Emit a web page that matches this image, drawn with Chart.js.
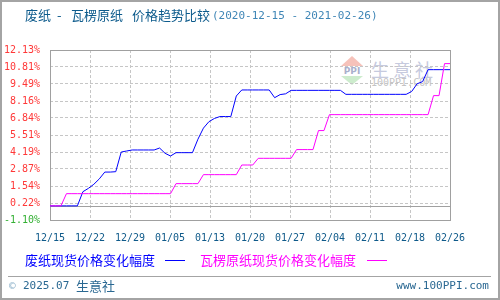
<!DOCTYPE html>
<html><head><meta charset="utf-8">
<script src="https://cdn.jsdelivr.net/npm/chart.js@4.4.0/dist/chart.umd.min.js"></script>
<style>
html,body{margin:0;padding:0;background:#fff;}
#wrap{position:relative;width:500px;height:300px;overflow:hidden;background:#fff;}
#frame{position:absolute;left:0;top:0;width:500px;height:300px;box-sizing:border-box;border:2px solid #a4a4a4;pointer-events:none;z-index:5;}
canvas{position:absolute;left:0;top:0;z-index:2;}
.t{position:absolute;white-space:nowrap;line-height:1;z-index:3;}
.cjk{font-family:"Noto Sans CJK SC","Noto Sans",sans-serif;font-size:13px;}
.mono{font-family:"DejaVu Sans Mono",monospace;font-size:11px;}
.wm{position:absolute;z-index:1;white-space:nowrap;line-height:1;}
</style></head><body>
<div id="wrap">
  <!-- watermark (behind the chart) -->
  <div class="wm" style="left:341px;top:56px;width:0;height:0;border-left:11px solid transparent;border-right:11px solid transparent;border-bottom:10px solid #f6c2ba;"></div>
  <div class="wm" style="left:341px;top:66px;width:22px;height:9px;font:bold 9px 'DejaVu Sans';color:#aab0cc;text-align:center;">PPI</div>
  <div class="wm" style="left:341px;top:76px;width:0;height:0;border-left:11px solid transparent;border-right:11px solid transparent;border-top:9px solid #cdeccd;"></div>
  <div class="wm" style="left:371px;top:56px;font:18px 'Noto Sans CJK SC';letter-spacing:4px;color:#c6cade;">生意社</div>
  <div class="wm" style="left:371px;top:77px;font:10px 'DejaVu Sans Mono';color:#c4c4c4;">100PPI.COM</div>

  <canvas id="c" width="500" height="300"></canvas>

  <!-- title -->
  <div class="t cjk" style="left:25px;top:8px;color:#0d5b8c;">废纸</div>
  <div class="t cjk" style="left:57px;top:8px;color:#0d5b8c;">-</div>
  <div class="t cjk" style="left:71px;top:8px;color:#0d5b8c;">瓦楞原纸</div>
  <div class="t cjk" style="left:132px;top:8px;color:#0d5b8c;">价格趋势比较</div>
  <div class="t mono" style="left:212px;top:10px;color:#3f86b6;">(2020-12-15 - 2021-02-26)</div>

  <!-- legend -->
  <div class="t cjk" style="left:25px;top:253px;color:#0000ff;">废纸现货价格变化幅度</div>
  <div class="t" style="left:165px;top:260px;width:20px;height:0;border-top:1px solid #0000ff;"></div>
  <div class="t cjk" style="left:200px;top:253px;color:#ff00ff;">瓦楞原纸现货价格变化幅度</div>
  <div class="t" style="left:367px;top:260px;width:20px;height:0;border-top:1px solid #ff00ff;"></div>

  <!-- footer -->
  <div class="t" style="left:8px;top:276px;width:483px;height:0;border-top:1px solid #a4a4a4;"></div>
  <div class="t mono" style="left:9px;top:280px;color:#8eb2ca;">©</div>
  <div class="t mono" style="left:23px;top:280px;color:#2a6892;">2025.07</div>
  <div class="t cjk" style="left:76px;top:279px;color:#2a6892;">生意社</div>
  <div class="t mono" style="right:11px;top:280px;color:#2a6892;">www.100PPI.com</div>

  <div id="frame"></div>
</div>
<script>
// ---- data ----
const xTickLabels = ['12/15','12/22','12/29','01/05','01/13','01/20','01/27','02/04','02/11','02/18','02/26'];
const dayCount = 74; // daily points, 2020-12-15 .. 2021-02-26
const yTicks = [-1.10, 0.22, 1.54, 2.87, 4.19, 5.51, 6.84, 8.16, 9.49, 10.81, 12.13];
const seriesNames = ['废纸现货价格变化幅度', '瓦楞原纸现货价格变化幅度'];
const wastePaper = [
  0,0,0,0,0,0, 1.10,1.36,1.68,2.10,
  2.63,2.63,2.66, 4.19,4.27,4.35,4.35,4.35,4.35,4.35,
  4.50,4.09,3.88,4.14,4.14,4.14,4.14,
  5.19,6.05,6.55,6.80,6.95,6.95,6.95,
  8.55,9.02,9.02,9.02,9.02,9.02,9.02,
  8.42,8.66,8.72,8.99,
  8.99,8.99,8.99,8.99,8.99,8.99,8.99,8.99,8.99,
  8.68,
  8.68,8.68,8.68,8.68,8.68,8.68,8.68,8.68,8.68,8.68,8.68,
  8.90,9.50,9.67,
  10.60,10.60,10.60,10.60,10.60
];
const corrugated = [
  0,0,0,
  0.95,0.95,0.95,0.95,0.95,0.95,0.95,0.95,0.95,0.95,0.95,0.95,0.95,0.95,0.95,0.95,0.95,0.95,0.95,0.95,
  1.73,1.73,1.73,1.73,1.73,
  2.43,2.43,2.43,2.43,2.43,2.43,2.43,
  3.18,3.18,3.18,
  3.70,3.70,3.70,3.70,3.70,3.70,3.70,
  4.38,4.38,4.38,4.38,
  5.86,5.86,
  7.10,7.10,7.10,7.10,7.10,7.10,7.10,7.10,7.10,7.10,7.10,7.10,7.10,7.10,7.10,7.10,7.10,7.10,7.10,
  8.58,8.58,
  11.07,11.07
];

// ---- build ----
const xTickPos = xTickLabels.map((_, i) => i * (dayCount - 1) / (xTickLabels.length - 1));
const toPts = arr => arr.map((v, i) => ({x: i, y: v}));
const gridColor = '#c6c6c6';

const boxPlugin = {
  id: 'box',
  beforeDatasetsDraw(chart) {
    const {ctx, chartArea: a, scales: {y}} = chart;
    ctx.save();
    ctx.strokeStyle = '#a0a0a0';
    ctx.lineWidth = 1;
    const y0 = Math.round(y.getPixelForValue(0)) + 0.5;
    ctx.beginPath();
    ctx.moveTo(a.left, y0); ctx.lineTo(a.right, y0);
    ctx.stroke();
    ctx.strokeRect(Math.round(a.left) + 0.5, Math.round(a.top) + 0.5,
                   Math.round(a.right - a.left), Math.round(a.bottom - a.top));
    ctx.restore();
  }
};

new Chart(document.getElementById('c'), {
  type: 'line',
  data: {
    datasets: [
      {label: seriesNames[0], data: toPts(wastePaper), borderColor: '#0000ff', order: 2},
      {label: seriesNames[1], data: toPts(corrugated), borderColor: '#ff00ff', order: 1}
    ]
  },
  options: {
    responsive: false, animation: false, devicePixelRatio: 1,
    layout: {padding: {top: 50, right: 50, left: 0, bottom: 0}},
    plugins: {legend: {display: false}, tooltip: {enabled: false}, title: {display: false}},
    elements: {point: {radius: 0}, line: {borderWidth: 1, tension: 0}},
    scales: {
      x: {
        type: 'linear', min: 0, max: dayCount - 1,
        afterBuildTicks: s => { s.ticks = xTickPos.map(v => ({value: v})); },
        afterFit: s => { s.height = 80; },
        grid: {color: gridColor, drawTicks: false},
        border: {display: false, dash: [3, 2]},
        ticks: {
          callback: (v, i) => xTickLabels[i],
          color: '#0f5a8a', font: {family: 'DejaVu Sans Mono', size: 10},
          padding: 12, maxRotation: 0, autoSkip: false
        }
      },
      y: {
        min: -1.10, max: 12.13,
        afterBuildTicks: s => { s.ticks = yTicks.map(v => ({value: v})); },
        afterFit: s => { s.width = 50; },
        grid: {color: gridColor, drawTicks: false},
        border: {display: false, dash: [3, 2]},
        ticks: {
          callback: v => v.toFixed(2) + '%',
          color: c => (c.tick && c.tick.value < 0) ? '#33b033' : '#ff3838',
          font: {family: 'DejaVu Sans Mono', size: 10},
          padding: 10, autoSkip: false
        }
      }
    }
  },
  plugins: [boxPlugin]
});
</script>
</body></html>
